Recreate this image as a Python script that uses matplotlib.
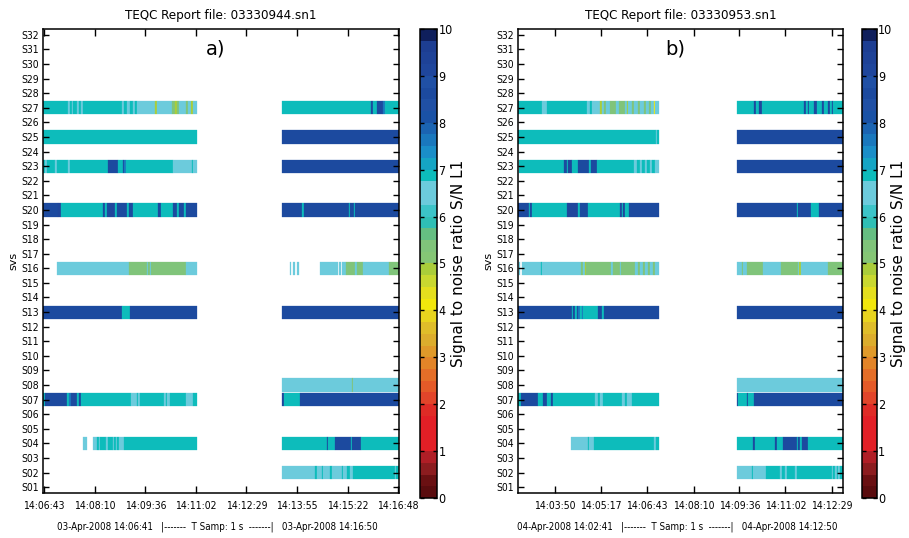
import matplotlib
matplotlib.use("Agg")
import matplotlib.pyplot as plt
from matplotlib.colors import ListedColormap, Normalize
from matplotlib.cm import ScalarMappable
from matplotlib import font_manager
from matplotlib.font_manager import FontProperties
from matplotlib.transforms import offset_copy

# S/N L1 levels seen in the bars
T = 6.9    # teal
C = 6.4    # light cyan
B = 8.6    # blue
N = 9.2    # dark blue
M = 7.6    # mid blue
G = 5.3    # green
Y = 4.8    # yellow green
YY = 4.1   # yellow

sats = ["S%02d" % i for i in range(1, 33)]

# ---- panel a)
a_file = "03330944.sn1"
a_start = "14:06:41"
a_end = "14:16:50"
a_date = "03-Apr-2008"
a_ticks = ["14:06:43", "14:08:10", "14:09:36", "14:11:02", "14:12:29",
           "14:13:55", "14:15:22", "14:16:48"]

# segments: (start s, end s, snr), seconds after a_start
a_s27 = [(0, 42, T), (42, 46, C), (46, 49, T), (49, 52, C), (52, 59, T), (59, 62, C),
         (62, 64.5, T), (64.5, 68, C), (68, 134.5, T), (134.5, 138.5, C), (138.5, 144, T),
         (144, 148, C), (148, 154.5, T), (154.5, 158, C), (158, 161.5, T), (161.5, 191.5, C),
         (191.5, 194.5, Y), (194.5, 220, C), (220, 226, G), (226, 229, Y), (229, 233, G),
         (233, 244, C), (244, 247.5, G), (247.5, 252.5, C), (252.5, 256, Y), (256, 263, C),
         (409.4, 561, T), (561, 564, B), (564, 571, T), (571, 582, B), (582, 585.5, M),
         (585.5, 609, T)]
a_s25 = [(0, 263, T), (409.4, 609, B)]
a_s23 = [(0, 4, T), (4, 6.3, C), (6.3, 20.5, T), (20.5, 23.4, C), (23.4, 43.3, T),
         (43.3, 46.2, C), (46.2, 111.7, T), (111.7, 128.8, B), (128.8, 136.2, T),
         (136.2, 139, B), (139, 142, M), (142, 223, T), (223, 254.2, C), (254.2, 257, T),
         (257, 263, C), (409.4, 609, B)]
a_s20 = [(0, 26.2, B), (26.2, 30.2, N), (30.2, 103.2, T), (103.2, 106, B), (106, 108.9, T),
         (108.9, 114.6, B), (114.6, 123.1, N), (123.1, 127.1, T), (127.1, 143, B),
         (143, 147.6, T), (147.6, 154.5, B), (154.5, 197.2, T), (197.2, 201.2, B),
         (201.2, 221.7, T), (221.7, 229.7, B), (229.7, 233.1, T), (233.1, 241.1, B),
         (241.1, 244.5, T), (244.5, 263, B),
         (409.4, 443.6, B), (443.6, 446.4, T), (446.4, 523.4, B), (523.4, 525.4, T),
         (525.4, 531.4, B), (531.4, 533.7, T), (533.7, 609, B)]
a_s16 = [(23.4, 147.6, C), (147.6, 178.4, G), (178.4, 180.5, C), (180.5, 183, G),
         (183, 185, C), (185, 244.5, G), (244.5, 263, C),
         (422.5, 424.8, C), (428.2, 430.5, C), (433.9, 437.3, C), (473.8, 505.2, C),
         (506.9, 509.1, C), (511.4, 518.3, C), (518.3, 533.7, G), (533.7, 537.6, C),
         (537.6, 546.8, G), (546.8, 592.4, C), (592.4, 609, G)]
a_s13 = [(0, 134.5, B), (134.5, 148.8, T), (148.8, 263, B), (409.4, 609, B)]
a_s08 = [(409.4, 528, C), (528, 530.2, G), (530.2, 609, C)]
a_s07 = [(0, 3.4, T), (3.4, 41.6, B), (41.6, 45, T), (45, 47.3, M), (47.3, 58.7, B),
         (58.7, 62.1, T), (62.1, 65.5, B), (65.5, 149.9, T), (149.9, 160.2, C),
         (160.2, 162, T), (162, 166, C), (166, 206.9, T), (206.9, 210, C), (210, 212, T),
         (212, 217.2, C), (217.2, 244.5, T), (244.5, 257.1, C), (257.1, 263, T),
         (409.4, 412.2, N), (412.2, 439.6, T), (439.6, 609, B)]
a_s04 = [(69, 74.7, C), (84.9, 92.9, C), (92.9, 95.2, T), (95.2, 97.5, C), (97.5, 107.2, T),
         (107.2, 110.6, C), (110.6, 119.1, T), (119.1, 121.4, C), (121.4, 124.8, T),
         (124.8, 127.1, C), (127.1, 130.5, T), (130.5, 138.5, C), (138.5, 263, T),
         (409.4, 485.2, T), (485.2, 488, B), (488, 499.4, T), (499.4, 526.2, B),
         (526.2, 528.5, T), (528.5, 543.3, B), (543.3, 609, T)]
a_s02 = [(409.4, 465.3, C), (465.3, 468.1, T), (468.1, 476.7, C), (476.7, 479.5, T),
         (479.5, 490.9, C), (490.9, 493.8, T), (493.8, 510.9, C), (510.9, 513.7, T),
         (513.7, 519.4, C), (519.4, 525.1, T), (525.1, 530.8, C), (530.8, 602, T),
         (602, 604, C), (604, 609, T)]

# ---- panel b)
b_file = "03330953.sn1"
b_start = "14:02:41"
b_end = "14:12:50"
b_date = "04-Apr-2008"
b_ticks = ["14:03:50", "14:05:17", "14:06:43", "14:08:10", "14:09:36",
           "14:11:02", "14:12:29"]

b_s27 = [(0, 44, T), (44, 55, C), (55, 129, T), (129, 134, C), (134, 139, T), (139, 154, C),
         (154, 157, Y), (157, 162, C), (162, 165, G), (165, 172, C), (172, 184, G),
         (184, 190, C), (190, 200, G), (200, 204, C), (204, 207, Y), (207, 214, C),
         (214, 217, G), (217, 224, C), (224, 228, G), (228, 236, C), (236, 239, G),
         (239, 246, C), (246, 249, G), (249, 254, C), (254, 256, YY), (256, 264.2, C),
         (409.8, 442.9, T), (442.9, 445.4, B), (445.4, 451.6, T), (451.6, 457.9, N),
         (457.9, 535.9, T), (535.9, 539, B), (539, 542.8, T), (542.8, 545.9, B),
         (545.9, 555.3, T), (555.3, 559.7, B), (559.7, 570.3, T), (570.3, 573.4, B),
         (573.4, 581.5, T), (581.5, 584.6, B), (584.6, 587.8, T), (587.8, 590.9, B),
         (590.9, 609, T)]
b_s25 = [(0, 258, T), (258, 261, C), (261, 264.2, T), (409.8, 609, B)]
b_s23 = [(2.4, 86.8, T), (86.8, 91.2, B), (91.2, 94.3, T), (94.3, 100.6, N),
         (100.6, 113.1, T), (113.1, 133.1, B), (133.1, 136.8, T), (136.8, 147.4, B),
         (147.4, 218, T), (218, 222.4, C), (222.4, 228.6, T), (228.6, 231.7, C),
         (231.7, 238, T), (238, 241.1, C), (241.1, 247.4, T), (247.4, 250.5, C),
         (250.5, 256.7, T), (256.7, 264.2, C), (409.8, 609, B)]
b_s20 = [(0, 20.6, B), (20.6, 22.5, T), (22.5, 25.6, B), (25.6, 91.2, T), (91.2, 94.3, B),
         (94.3, 113.1, N), (113.1, 116.2, T), (116.2, 130.6, B), (130.6, 191.1, T),
         (191.1, 194.3, B), (194.3, 197.4, T), (197.4, 200.5, N), (200.5, 208, T),
         (208, 264.2, B),
         (409.8, 522.2, B), (522.2, 525.3, T), (525.3, 549, B), (549, 564, T), (564, 609, B)]
b_s16 = [(1.9, 4.4, C), (6.9, 43.1, C), (43.1, 44.4, T), (44.4, 118, C), (118, 122.4, G),
         (122.4, 125.6, C), (125.6, 127.4, Y), (127.4, 174.3, G), (174.3, 177.4, C),
         (177.4, 191.1, G), (191.1, 193, C), (193, 219.3, G), (219.3, 225.5, C),
         (225.5, 228.6, G), (228.6, 234.9, C), (234.9, 238, G), (238, 244.2, C),
         (244.2, 247.4, G), (247.4, 253.6, C), (253.6, 256.7, G), (256.7, 264.2, C),
         (409.8, 420.4, C), (420.4, 422.3, G), (422.3, 428.5, C), (428.5, 459.7, G),
         (459.7, 492.8, C), (492.8, 524, G), (524, 527, C), (527, 530, Y), (530, 581.5, C),
         (581.5, 609, G)]
b_s13 = [(0, 100.6, B), (100.6, 103.7, T), (103.7, 106.8, B), (106.8, 110.6, T),
         (110.6, 113.1, B), (113.1, 116.8, M), (116.8, 119.3, T), (119.3, 122.4, M),
         (122.4, 149.3, T), (149.3, 158, B), (158, 161.8, T), (161.8, 264.2, B),
         (409.8, 609, B)]
b_s08 = [(409.8, 609, C)]
b_s07 = [(0, 5.6, T), (5.6, 38.1, B), (38.1, 46.2, T), (46.2, 55, B), (55, 61.9, T),
         (61.9, 65, B), (65, 144.3, T), (144.3, 150.6, C), (150.6, 153.7, T),
         (153.7, 159.9, C), (159.9, 195.5, T), (195.5, 200.5, C), (200.5, 203.6, T),
         (203.6, 214.3, C), (214.3, 264.2, T),
         (409.8, 412.9, N), (412.9, 428.5, T), (428.5, 431.6, B), (431.6, 442.9, T),
         (442.9, 609, B)]
b_s04 = [(99.3, 131.8, C), (131.8, 133.1, T), (133.1, 143, C), (143, 255.5, T),
         (255.5, 258.6, C), (258.6, 264.2, T),
         (409.8, 441, T), (441, 444.1, B), (444.1, 481.6, T), (481.6, 484.7, B),
         (484.7, 497.2, T), (497.2, 522.2, B), (522.2, 525.3, T), (525.3, 528.4, B),
         (528.4, 531.6, T), (531.6, 542.8, B), (542.8, 609, T)]
b_s02 = [(409.8, 437.8, C), (437.8, 440.9, T), (440.9, 464.7, C), (464.7, 490.9, T),
         (490.9, 494.1, C), (494.1, 500.3, T), (500.3, 503.4, C), (503.4, 519, T),
         (519, 523.4, C), (523.4, 587.8, T), (587.8, 590.9, C), (590.9, 594, T),
         (594, 597.1, C), (597.1, 600.3, T), (600.3, 603, C), (603, 609, T)]

a_rows = {27: a_s27, 25: a_s25, 23: a_s23, 20: a_s20, 16: a_s16,
          13: a_s13, 8: a_s08, 7: a_s07, 4: a_s04, 2: a_s02}
b_rows = {27: b_s27, 25: b_s25, 23: b_s23, 20: b_s20, 16: b_s16,
          13: b_s13, 8: b_s08, 7: b_s07, 4: b_s04, 2: b_s02}

# 40-step colour scale, 0.25 per step
snr_colors = ["#5a0c0e", "#6a1012", "#8c1c1f", "#b01e26", "#e21f26", "#e21f26",
              "#e21f26", "#df2b26", "#e2452a", "#e45a28", "#e46e28", "#e38428",
              "#e09a2a", "#dcad2d", "#dfbd2a", "#e8d41e", "#f2e70c", "#e4df1e",
              "#c9d830", "#aacd3a", "#85c675", "#80c47a", "#65be82", "#2fbfb5",
              "#3cc4c8", "#6ccbdc", "#6ccbdc", "#0dbcbb", "#15a5c4", "#1a8ec8",
              "#1a78bd", "#1b64b2", "#1a52a6", "#2050a5", "#1c4a9f", "#2050a5",
              "#1f469c", "#1e4297", "#1d3e92", "#0f1f5c"]
cmap = ListedColormap(snr_colors)
norm = Normalize(0, 10)

# look for a narrow/condensed face for the tick labels (matlab-like look)
narrow_path = None
for key in ("LiberationSansNarrow-Regular", "DejaVuSansCondensed.ttf", "Condensed-Regular",
            "Narrow-Regular", "Condensed.ttf"):
    hits = [f.fname for f in font_manager.fontManager.ttflist if key in f.fname]
    if hits:
        narrow_path = hits[0]
        break


def narrow(size):
    if narrow_path:
        return FontProperties(fname=narrow_path, size=size)
    return FontProperties(family="Liberation Sans", size=size * 0.85)


def to_sec(hms):
    h, m, s = hms.split(":")
    return int(h) * 3600 + int(m) * 60 + int(s)


def draw_panel(ax, cax, rows, start, end, ticks, date, fname, tag):
    t0 = to_sec(start)
    for sat, segs in rows.items():
        ax.broken_barh([(s, e - s) for s, e, v in segs], (sat - 0.45, 0.9),
                       facecolors=[cmap(norm(v)) for s, e, v in segs],
                       edgecolor="face", linewidth=0.2)
    ax.set_xlim(0, to_sec(end) - t0)
    ax.set_ylim(0.6, 32.4)
    ax.set_xticks([to_sec(t) - t0 for t in ticks])
    ax.set_xticklabels(ticks, fontproperties=narrow(7.5))
    ax.set_yticks(range(1, 33))
    ax.set_yticklabels(sats, fontproperties=narrow(7.5))
    ax.tick_params(axis="x", direction="in", top=True, length=5, width=1, pad=6)
    ax.tick_params(axis="y", direction="in", right=True, length=4, width=1, pad=3)
    for sp in ax.spines.values():
        sp.set_linewidth(1.1)
    ax.set_title("TEQC Report file: " + fname, fontproperties=narrow(9.5), pad=7)
    ax.set_ylabel("svs", fontsize=8, labelpad=2)
    ax.text(0.485, 0.957, tag, transform=ax.transAxes, ha="center", va="center",
            fontsize=14)
    ax.text(0.49, -0.073,
            date + " " + start + "   |-------  T Samp: 1 s  -------|   " + date + " " + end,
            transform=ax.transAxes, ha="center", va="center",
            fontproperties=narrow(7))

    cb = plt.colorbar(ScalarMappable(norm=norm, cmap=cmap), cax=cax, ticks=range(11))
    cb.outline.set_linewidth(1.1)
    cb.ax.tick_params(direction="in", left=True, right=True, length=3, width=1, pad=1)
    for lab in cb.ax.get_yticklabels():
        lab.set_fontproperties(narrow(9))
    # colorbar label, placed a fixed number of pixels right of the bar
    pos = offset_copy(cax.transAxes, fig=cax.figure, x=22, y=0, units="dots")
    cax.text(1, 0.5, "Signal to noise ratio S/N L1", transform=pos, rotation=90,
             ha="center", va="center", fontsize=11)


fig = plt.figure(figsize=(9.09, 5.38), dpi=100)
ax1 = fig.add_axes([0.0473, 0.0836, 0.3916, 0.8625])
cax1 = fig.add_axes([0.462, 0.0743, 0.0187, 0.872])
ax2 = fig.add_axes([0.5699, 0.0836, 0.3575, 0.8625])
cax2 = fig.add_axes([0.948, 0.0743, 0.0165, 0.872])

draw_panel(ax1, cax1, a_rows, a_start, a_end, a_ticks, a_date, a_file, "a)")
draw_panel(ax2, cax2, b_rows, b_start, b_end, b_ticks, b_date, b_file, "b)")

fig.savefig("out.png", dpi=100)
